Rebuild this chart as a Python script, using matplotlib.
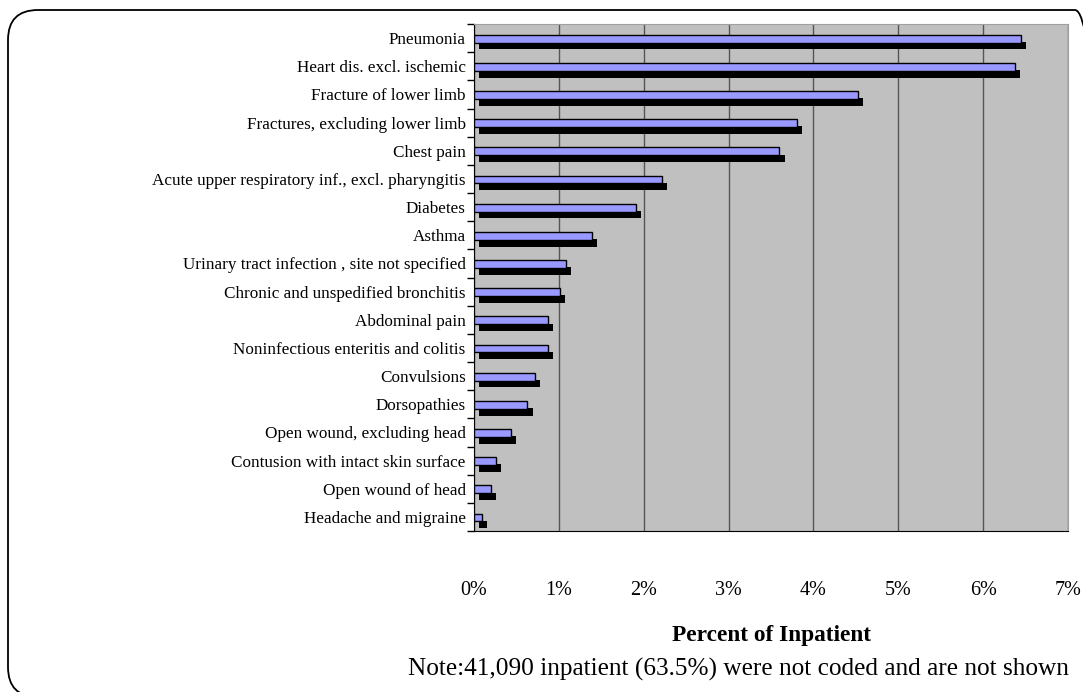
import numpy as np
import matplotlib
matplotlib.use('Agg')
import matplotlib.pyplot as plt
from matplotlib.patches import FancyBboxPatch
from matplotlib.ticker import FixedLocator, FuncFormatter

plt.rcParams['font.family'] = ['Liberation Serif', 'DejaVu Serif']
plt.rcParams['font.size'] = 12

# Data (percent of inpatient), top to bottom
categories = ['Pneumonia', 'Heart dis. excl. ischemic', 'Fracture of lower limb',
              'Fractures, excluding lower limb', 'Chest pain',
              'Acute upper respiratory inf., excl. pharyngitis', 'Diabetes', 'Asthma',
              'Urinary tract infection , site not specified',
              'Chronic and unspedified bronchitis', 'Abdominal pain',
              'Noninfectious enteritis and colitis', 'Convulsions', 'Dorsopathies',
              'Open wound, excluding head', 'Contusion with intact skin surface',
              'Open wound of head', 'Headache and migraine']
values = [6.45, 6.37, 4.52, 3.81, 3.60, 2.22, 1.91, 1.39, 1.08, 1.01,
          0.87, 0.87, 0.72, 0.63, 0.44, 0.26, 0.20, 0.09]
xticks = [0, 1, 2, 3, 4, 5, 6, 7]

W, H = 10.83, 6.92
fig = plt.figure(figsize=(W, H), dpi=100)

# rounded chart border, in inches; right/bottom run off the image like the original
border = FancyBboxPatch((0.08, -0.05), 10.97, 6.87, boxstyle='round,pad=0,rounding_size=0.3',
                        transform=fig.dpi_scale_trans, fill=False, ec='black', lw=1.3)
fig.patches.append(border)

ax = fig.add_axes([474/1083, 1 - 531/692, 594/1083, 507/692])
ax.set_facecolor('#c0c0c0')

y = np.arange(len(categories))
# depth (shadow) then front face
ax.barh(y + 0.27, values, left=0.06, height=0.27, color='black', zorder=2)
ax.barh(y + 0.02, values, height=0.28, color='#9999ff', edgecolor='black', lw=1, zorder=3)

ax.set_xlim(0, 7)
ax.set_ylim(len(categories) - 0.5, -0.5)
ax.xaxis.set_major_locator(FixedLocator(xticks))
ax.xaxis.set_major_formatter(FuncFormatter(lambda v, p: '%d%%' % v))
ax.set_xticks([0], minor=True)
ax.grid(axis='x', color='#555555', lw=1, zorder=1)
ax.set_axisbelow(True)
ax.tick_params(axis='x', which='major', length=0, pad=36, labelsize=14.5)
ax.tick_params(axis='x', which='minor', length=6, width=1, color='black')

ax.set_yticks(y)
ax.set_yticklabels(categories, fontsize=12.3)
ax.set_yticks(np.arange(-0.5, len(categories)), minor=True)
ax.tick_params(axis='y', which='major', length=0, pad=6)
ax.tick_params(axis='y', which='minor', length=5, width=1, color='black')

for s in ['top', 'right']:
    ax.spines[s].set_color('#a0a0a0')
ax.spines['left'].set_color('black')
ax.spines['bottom'].set_color('black')

ax.set_xlabel('Percent of Inpatient', fontweight='bold', fontsize=16.8, labelpad=18)
fig.text(408/1083, 1 - 669/692, 'Note:41,090 inpatient (63.5%) were not coded and are not shown',
         fontsize=18.2, va='center', ha='left')

fig.savefig('out.png', dpi=100)
